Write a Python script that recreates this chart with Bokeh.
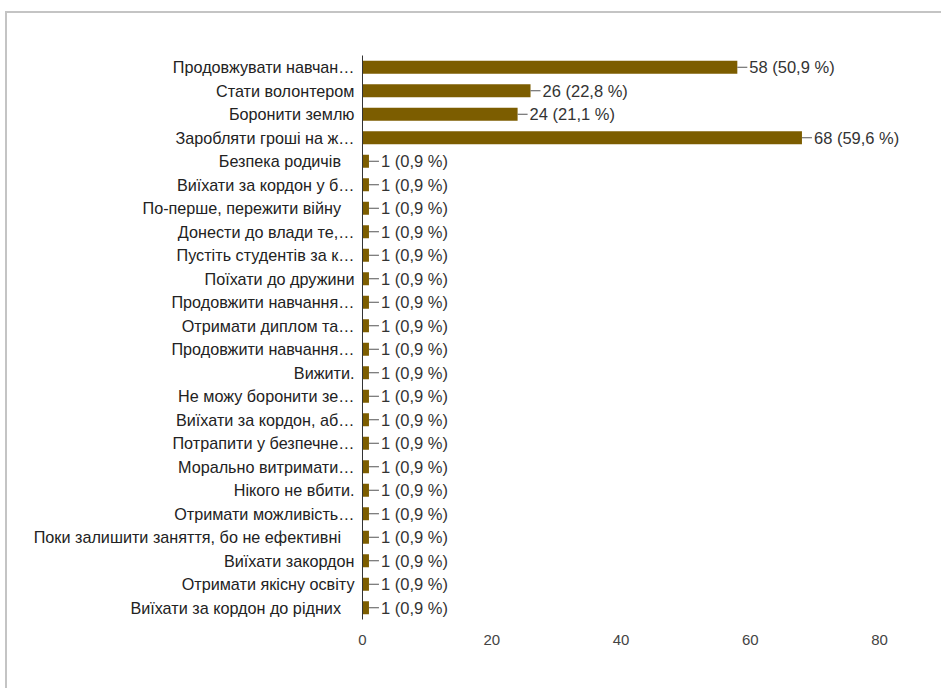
from bokeh.plotting import figure
from bokeh.models import Range1d, FixedTicker, ColumnDataSource
from bokeh.core.properties import value
from bokeh.embed import file_html
from bokeh.resources import INLINE

NB = "\u00a0"
labels = [
    "Продовжувати навчан…",
    "Стати волонтером",
    "Боронити землю",
    "Заробляти гроші на ж…",
    "Безпека родичів" + NB * 3,
    "Виїхати за кордон у б…",
    "По-перше, пережити війну" + NB * 3,
    "Донести до влади те,…",
    "Пустіть студентів за к…",
    "Поїхати до дружини",
    "Продовжити навчання…",
    "Отримати диплом та…",
    "Продовжити навчання…",
    "Вижити.",
    "Не можу боронити зе…",
    "Виїхати за кордон, аб…",
    "Потрапити у безпечне…",
    "Морально витримати…",
    "Нікого не вбити.",
    "Отримати можливість…",
    "Поки залишити заняття, бо не ефективні" + NB * 3,
    "Виїхати закордон",
    "Отримати якісну освіту",
    "Виїхати за кордон до рідних" + NB * 3,
]
counts = [58, 26, 24, 68] + [1] * 20
percents = ["50,9", "22,8", "21,1", "59,6"] + ["0,9"] * 20
x_ticks = [0, 20, 40, 60, 80]

n = len(labels)
ypos = [n - 1 - i for i in range(n)]
value_text = [f"{c} ({pc} %)" for c, pc in zip(counts, percents)]

src = ColumnDataSource(dict(y=ypos, count=counts, txt=value_text))

FONT = "Liberation Sans"
PX_PER_UNIT = 517 / 80
FRAME_W = 941 - 362
X_END = FRAME_W / PX_PER_UNIT

p = figure(
    frame_width=FRAME_W, frame_height=564,
    min_border_left=355, min_border_right=0,
    min_border_top=42, min_border_bottom=69,
    x_range=Range1d(0, X_END), y_range=Range1d(-0.5, n - 0.5),
    output_backend="svg", toolbar_location=None,
    background_fill_color="white", border_fill_color="white",
)
p.outline_line_color = None
p.grid.visible = False

p.hbar(y="y", left=0, right="count", height=0.56, source=src,
       fill_color="#7c5d00", line_color=None)
p.ray(x="count", y="y", length=10, length_units="screen", angle=0,
      source=src, line_color="#555555", line_width=1)
p.text(x="count", y="y", text="txt", source=src, x_offset=12,
       text_baseline="middle", text_align="left", text_font=value(FONT),
       text_font_size="16.5px", text_color="#333333")

# y axis
ya = p.yaxis[0]
ya.ticker = FixedTicker(ticks=ypos)
ya.major_label_overrides = {y: lab for y, lab in zip(ypos, labels)}
ya.major_tick_line_color = None
ya.minor_tick_line_color = None
ya.axis_line_color = "#333333"
ya.axis_line_width = 1
ya.major_label_standoff = 2
ya.major_label_text_font = FONT
ya.major_label_text_font_size = "16.2px"
ya.major_label_text_color = "#222222"

# x axis
xa = p.xaxis[0]
xa.ticker = FixedTicker(ticks=x_ticks)
xa.axis_line_color = None
xa.major_tick_line_color = None
xa.minor_tick_line_color = None
xa.major_label_standoff = 9
xa.major_label_text_font = FONT
xa.major_label_text_font_size = "15px"
xa.major_label_text_color = "#444444"

p.margin = (11, 0, 0, 5)
p.styles = {"border-top": "2px solid #c4c4c4", "border-left": "2px solid #c4c4c4"}

open("out.html", "w").write(file_html(p, INLINE))
